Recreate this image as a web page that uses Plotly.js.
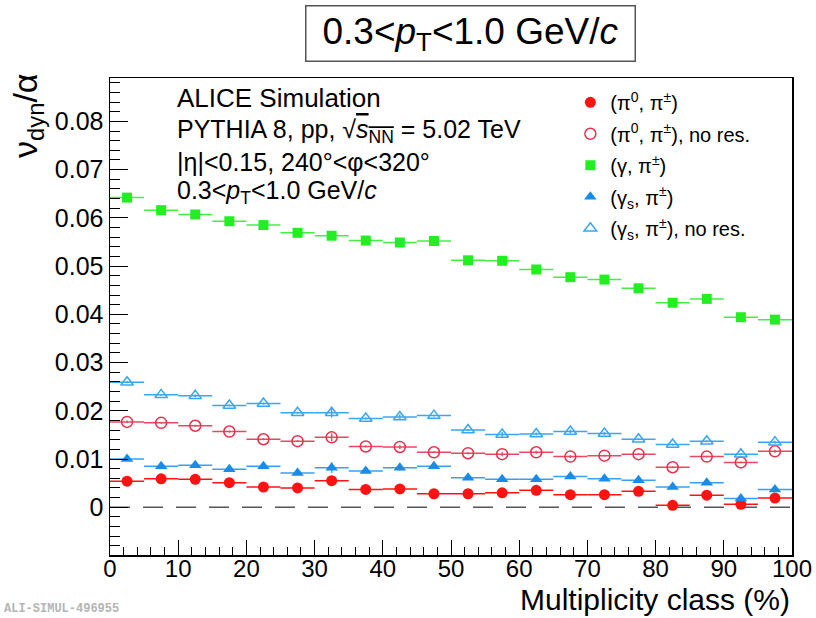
<!DOCTYPE html>
<html>
<head>
<meta charset="utf-8">
<script src="https://cdn.plot.ly/plotly-3.0.1.min.js"></script>
<style>
  html, body { margin: 0; padding: 0; background: #fff; }
  #chart { width: 816px; height: 618px; }
</style>
</head>
<body>
<div id="chart"></div>
<script>
// Multiplicity class bins (5% wide), bin centres and half-widths
const binCentres = [2.5, 7.5, 12.5, 17.5, 22.5, 27.5, 32.5, 37.5, 42.5, 47.5,
                    52.5, 57.5, 62.5, 67.5, 72.5, 77.5, 82.5, 87.5, 92.5, 97.5];
const binHalfWidth = 2.5;

// nu_dyn / alpha for each correlation pair
const pi0Pi = [0.0054, 0.0059, 0.0058, 0.0051, 0.0042, 0.0040, 0.0055, 0.0037, 0.0038, 0.0028,
               0.0028, 0.0030, 0.0035, 0.0026, 0.0026, 0.0033, 0.0004, 0.0025, 0.0006, 0.0019];
const pi0PiErr = [0.0003, 0.0002, 0.0002, 0.0002, 0.0002, 0.0002, 0.0010, 0.0002, 0.0004, 0.0002,
                  0.0002, 0.0004, 0.0003, 0.0003, 0.0002, 0.0002, 0.0002, 0.0002, 0.0002, 0.0003];

const pi0PiNoRes = [0.0177, 0.0175, 0.0169, 0.0157, 0.0141, 0.0137, 0.0145, 0.0126, 0.0125, 0.0114,
                    0.0112, 0.0110, 0.0114, 0.0105, 0.0107, 0.0110, 0.0083, 0.0105, 0.0093, 0.0116];
const pi0PiNoResErr = [0.0003, 0.0002, 0.0002, 0.0002, 0.0002, 0.0002, 0.0008, 0.0002, 0.0004, 0.0002,
                       0.0002, 0.0004, 0.0003, 0.0003, 0.0002, 0.0002, 0.0002, 0.0002, 0.0002, 0.0003];

const gammaPi = [0.0642, 0.0616, 0.0607, 0.0593, 0.0585, 0.0569, 0.0563, 0.0553, 0.0549, 0.0552,
                 0.0512, 0.0511, 0.0493, 0.0477, 0.0472, 0.0454, 0.0424, 0.0432, 0.0394, 0.0389];
const gammaPiErr = [0.0002, 0.0002, 0.0004, 0.0002, 0.0002, 0.0002, 0.0008, 0.0002, 0.0006, 0.0002,
                    0.0002, 0.0006, 0.0004, 0.0004, 0.0003, 0.0002, 0.0002, 0.0002, 0.0002, 0.0004];

const gammaSPi = [0.0100, 0.0085, 0.0087, 0.0079, 0.0085, 0.0071, 0.0082, 0.0075, 0.0082, 0.0085,
                  0.0061, 0.0058, 0.0058, 0.0064, 0.0059, 0.0056, 0.0042, 0.0051, 0.0018, 0.0037];
const gammaSPiErr = [0.0003, 0.0002, 0.0002, 0.0002, 0.0002, 0.0002, 0.0011, 0.0002, 0.0006, 0.0002,
                     0.0002, 0.0005, 0.0003, 0.0004, 0.0002, 0.0002, 0.0002, 0.0002, 0.0002, 0.0004];

const gammaSPiNoRes = [0.0259, 0.0233, 0.0231, 0.0211, 0.0215, 0.0196, 0.0196, 0.0184, 0.0187, 0.0190,
                       0.0160, 0.0151, 0.0152, 0.0157, 0.0153, 0.0141, 0.0130, 0.0137, 0.0110, 0.0135];
const gammaSPiNoResErr = [0.0002, 0.0002, 0.0003, 0.0002, 0.0002, 0.0002, 0.0010, 0.0002, 0.0006, 0.0002,
                          0.0002, 0.0005, 0.0003, 0.0004, 0.0003, 0.0002, 0.0002, 0.0002, 0.0002, 0.0003];

// Axis ticks
const yTickVals = [0, 0.01, 0.02, 0.03, 0.04, 0.05, 0.06, 0.07, 0.08];
const yTickText = ['0', '0.01', '0.02', '0.03', '0.04', '0.05', '0.06', '0.07', '0.08'];

const FONT = 'Liberation Sans, Arial, Helvetica, sans-serif';

function series(name, group, y, err, color, symbol, size, lineColor) {
  return {
    type: 'scatter', mode: 'markers', name: name, legendgroup: group,
    x: binCentres, y: y,
    marker: { color: color, symbol: symbol, size: size,
              line: { color: color, width: symbol.indexOf('open') >= 0 ? 1.5 : 0 } },
    error_x: { type: 'constant', value: binHalfWidth, width: 0, thickness: 1.5, color: lineColor || color },
    error_y: { type: 'data', array: err, width: 0, thickness: 1.5, color: lineColor || color }
  };
}

const traces = [
  series('(π<sup>0</sup>, π<sup>±</sup>)', 'g1', pi0Pi, pi0PiErr, '#ff1212', 'circle', 11),
  series('(π<sup>0</sup>, π<sup>±</sup>), no res.', 'g2', pi0PiNoRes, pi0PiNoResErr, '#e8304c', 'circle-open', 11, '#e84860'),
  series('(γ, π<sup>±</sup>)', 'g3', gammaPi, gammaPiErr, '#22ee22', 'square', 10, '#44ee44'),
  series('(γ<sub>s</sub>, π<sup>±</sup>)', 'g4', gammaSPi, gammaSPiErr, '#1a8ce8', 'triangle-up', 11, '#3aa0ec'),
  series('(γ<sub>s</sub>, π<sup>±</sup>), no res.', 'g5', gammaSPiNoRes, gammaSPiNoResErr, '#3aa6ee', 'triangle-up-open', 11)
];

const layout = {
  width: 816, height: 618,
  margin: { l: 110, r: 24, t: 78, b: 63 },
  paper_bgcolor: '#ffffff', plot_bgcolor: '#ffffff',
  font: { family: FONT, color: '#000' },
  showlegend: true,
  legend: {
    x: 0.675, y: 0.99, xanchor: 'left', yanchor: 'top',
    bgcolor: 'rgba(255,255,255,1)', borderwidth: 0,
    font: { family: FONT, size: 20, color: '#000' },
    itemwidth: 30, tracegroupgap: 2.5
  },
  xaxis: {
    range: [0, 100],
    showgrid: false, zeroline: false,
    showline: true, mirror: true, linecolor: '#000', linewidth: 1.5,
    ticks: 'inside', ticklen: 15, tickwidth: 1, tickcolor: '#000',
    tick0: 0, dtick: 10, ticklabelstandoff: -8,
    minor: { ticks: 'inside', ticklen: 8, tickcolor: '#000', tickmode: 'linear', tick0: 0, dtick: 2 },
    tickfont: { family: FONT, size: 24, color: '#000' }
  },
  yaxis: {
    range: [-0.0099, 0.0890],
    showgrid: false, zeroline: false,
    showline: true, mirror: true, linecolor: '#000', linewidth: 1.5,
    ticks: 'inside', ticklen: 18, tickwidth: 1, tickcolor: '#000',
    tickmode: 'array', tickvals: yTickVals, ticktext: yTickText,
    minor: { ticks: 'inside', ticklen: 10, tickcolor: '#000', tickmode: 'linear', tick0: 0, dtick: 0.002 },
    tickfont: { family: FONT, size: 25, color: '#000' }
  },
  shapes: [
    { type: 'line', xref: 'x', yref: 'y', x0: 0, x1: 100, y0: 0, y1: 0,
      line: { color: '#555', width: 1.5, dash: '20px,13px' }, layer: 'below' }
  ],
  annotations: [
    { text: '0.3&lt;<i>p</i><sub>T</sub>&lt;1.0 GeV/<i>c</i>', xref: 'paper', yref: 'paper',
      x: 0.528, y: 1.094, xanchor: 'center', yanchor: 'middle', showarrow: false,
      font: { family: FONT, size: 37, color: '#000' }, width: 328, height: 54,
      bordercolor: '#555', borderwidth: 1.5, borderpad: 0, bgcolor: '#fff' },
    { text: 'ALICE Simulation', xref: 'paper', yref: 'paper', x: 0.095, y: 0.958,
      xanchor: 'left', yanchor: 'middle', showarrow: false, font: { family: FONT, size: 26 } },
    { text: 'PYTHIA 8, pp, √<span style="text-decoration:overline"><i>s</i><sub>NN</sub></span> = 5.02 TeV',
      xref: 'paper', yref: 'paper', x: 0.095, y: 0.889,
      xanchor: 'left', yanchor: 'middle', showarrow: false, font: { family: FONT, size: 25 } },
    { text: '|η|&lt;0.15, 240°&lt;φ&lt;320°', xref: 'paper', yref: 'paper', x: 0.095, y: 0.824,
      xanchor: 'left', yanchor: 'middle', showarrow: false, font: { family: FONT, size: 25 } },
    { text: '0.3&lt;<i>p</i><sub>T</sub>&lt;1.0 GeV/<i>c</i>', xref: 'paper', yref: 'paper', x: 0.095, y: 0.760,
      xanchor: 'left', yanchor: 'middle', showarrow: false, font: { family: FONT, size: 25 } },
    { text: 'ν<sub>dyn</sub>/α', xref: 'paper', yref: 'paper', x: -0.122, y: 0.92,
      xanchor: 'center', yanchor: 'middle', textangle: -90, showarrow: false,
      font: { family: FONT, size: 34 } },
    { text: 'Multiplicity class (%)', xref: 'paper', yref: 'paper', x: 1.0, y: -0.132,
      xanchor: 'right', yanchor: 'bottom', showarrow: false, font: { family: FONT, size: 30 } },
    { text: '<b>ALI-SIMUL-496955</b>', xref: 'paper', yref: 'paper', x: -0.159, y: -0.113,
      xanchor: 'left', yanchor: 'middle', showarrow: false,
      font: { family: 'Liberation Mono, DejaVu Sans Mono, monospace', size: 12, color: '#b4b4b4' } }
  ]
};

Plotly.newPlot('chart', traces, layout, { displayModeBar: false, staticPlot: true });
</script>
</body>
</html>
